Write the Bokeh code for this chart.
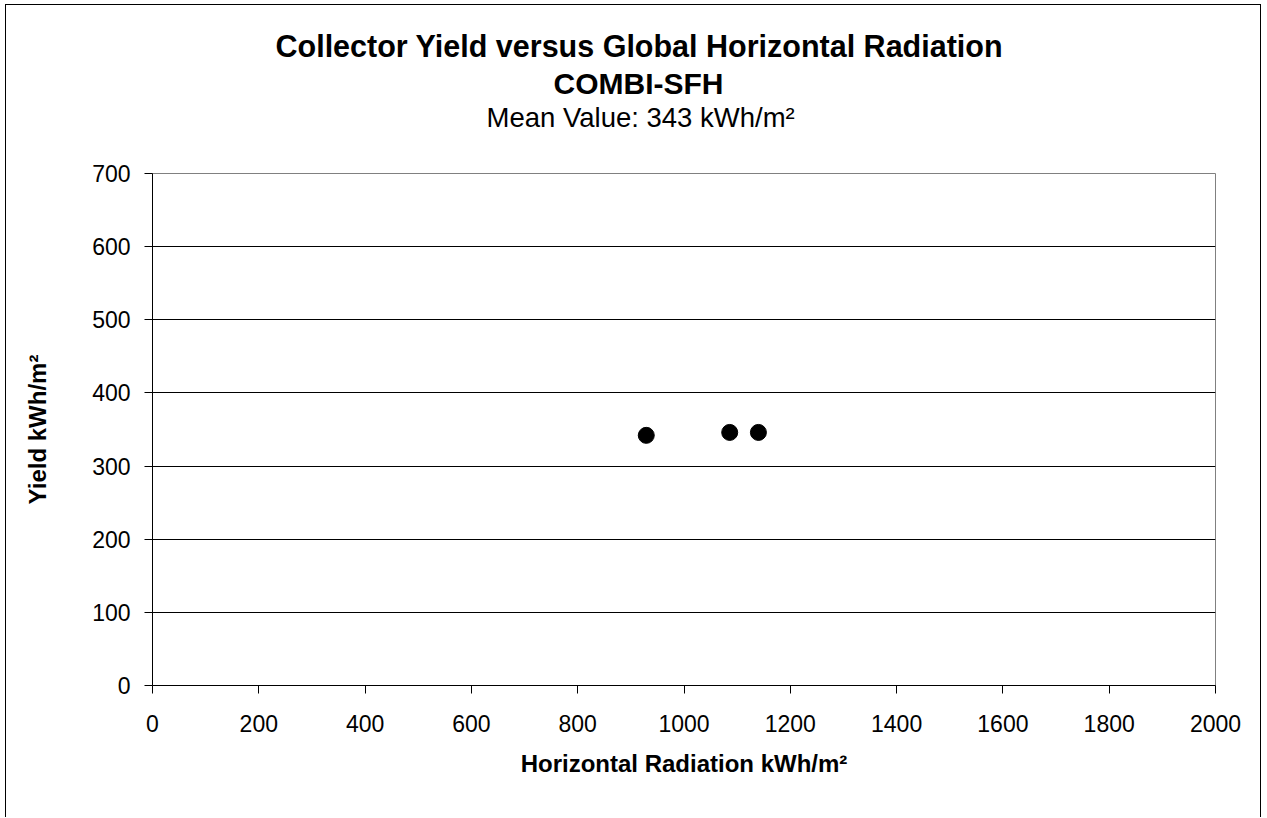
from bokeh.plotting import figure
from bokeh.models import Range1d, Title, FixedTicker
from bokeh.embed import file_html
from bokeh.resources import INLINE

# Data
radiation = [929, 1086, 1140]          # kWh/m² horizontal radiation
yield_vals = [342, 346, 346]           # kWh/m² collector yield
x_ticks = [0, 200, 400, 600, 800, 1000, 1200, 1400, 1600, 1800, 2000]
y_ticks = [0, 100, 200, 300, 400, 500, 600, 700]

title_1 = "Collector Yield versus Global Horizontal Radiation"
title_2 = "COMBI-SFH"
title_3 = "Mean Value: 343 kWh/m²"
x_label = "Horizontal Radiation kWh/m²"
y_label = "Yield kWh/m²"

FONT = "Liberation Sans"
W, H = 1256, 813

p = figure(width=W, height=H, output_backend="svg", toolbar_location=None,
           x_range=Range1d(0, 2000), y_range=Range1d(0, 700),
           min_border_left=146, min_border_right=47,
           min_border_top=168, min_border_bottom=133)
p.title.visible = False

p.styles = {"border-left": "1px solid black", "border-top": "1px solid black",
            "border-right": "1px solid black", "margin-left": "5px",
            "margin-top": "4px"}

p.background_fill_color = "white"
p.border_fill_color = "white"
p.outline_line_color = "#808080"
p.outline_line_width = 1

p.scatter(radiation, yield_vals, size=16, color="black", marker="circle")

for ax, ticks in ((p.xaxis, x_ticks), (p.yaxis, y_ticks)):
    ax.ticker = FixedTicker(ticks=ticks)
    ax.minor_tick_line_color = None
    ax.major_tick_out = 8
    ax.major_tick_in = 0
    ax.axis_line_color = "black"
    ax.major_tick_line_color = "black"
    ax.major_label_text_font = FONT
    ax.major_label_text_font_size = "23px"
    ax.major_label_text_color = "black"
    ax.axis_label_text_font = FONT
    ax.axis_label_text_font_size = "24px"
    ax.axis_label_text_font_style = "bold"
    ax.axis_label_text_color = "black"

p.xaxis.axis_label = x_label
p.yaxis.axis_label = y_label
p.xaxis.major_label_standoff = 21
p.yaxis.major_label_standoff = 14
p.xaxis.axis_label_standoff = 15
p.yaxis.axis_label_standoff = 38

p.xgrid.grid_line_color = None
p.ygrid.grid_line_color = "black"
p.ygrid.grid_line_width = 1

# blank spacer between the frame and the title block
p.add_layout(Title(text=" ", text_font=FONT, text_font_size="10px",
                   standoff=28), "above")

# Title lines: added from the frame outward
for txt, size, style, so, off in ((title_3, "27.5px", "normal", 0, 334),
                                  (title_2, "30px", "bold", 0, 401),
                                  (title_1, "30.5px", "bold", 3, 123)):
    p.add_layout(Title(text=txt, align="left", offset=off, standoff=so,
                       vertical_align="bottom",
                       text_font=FONT, text_font_size=size,
                       text_font_style=style, text_color="black"), "above")

open("out.html", "w").write(file_html(p, INLINE))
